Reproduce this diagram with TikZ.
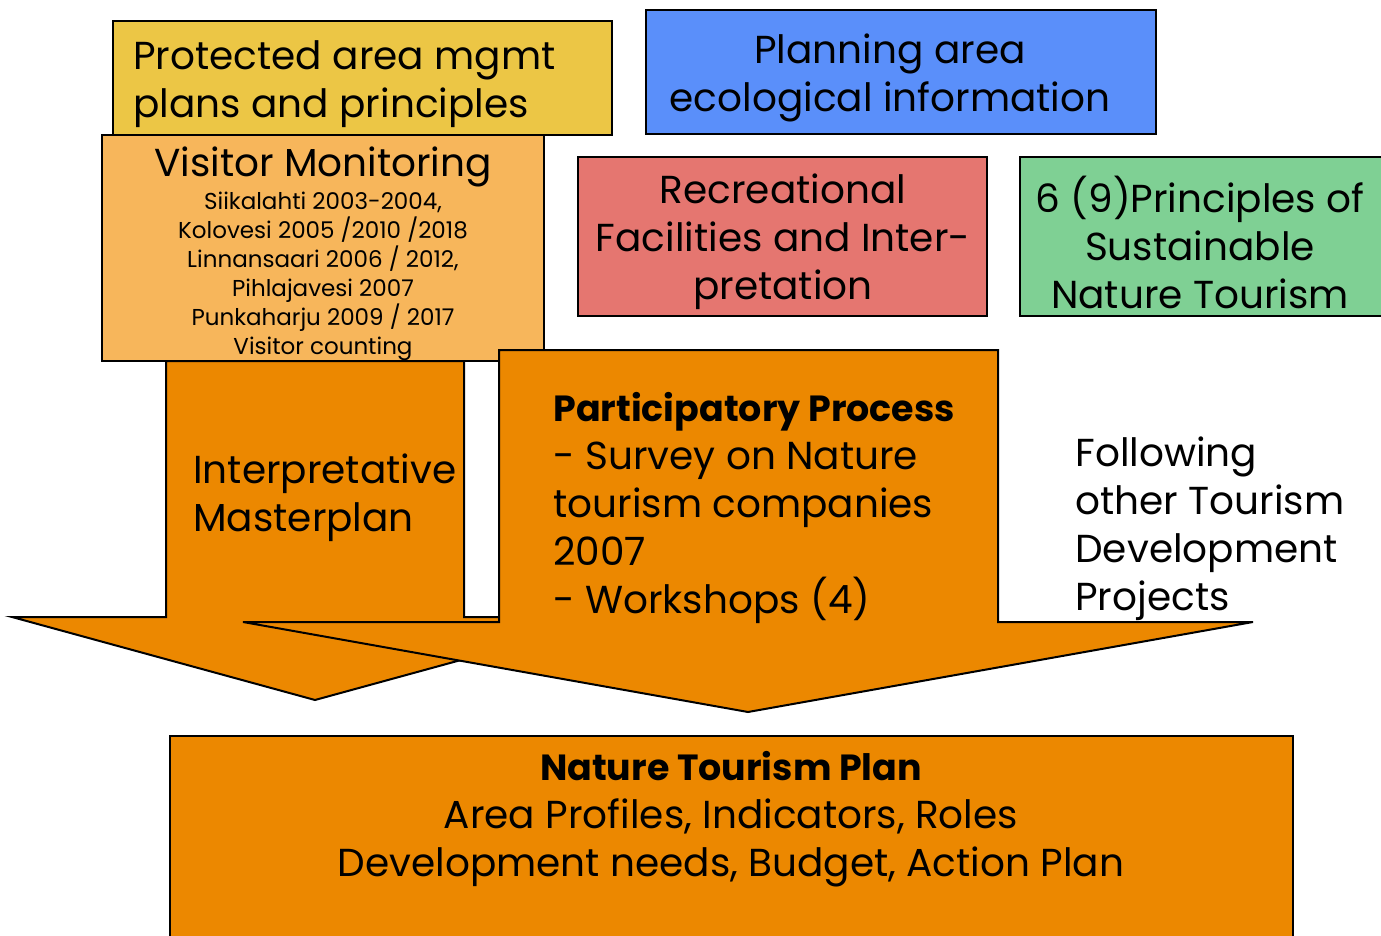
\documentclass[tikz,border=0pt]{standalone}
\usepackage{fontspec}
\setmainfont{Poppins}
\usepackage{xcolor}
\definecolor{mgmtyellow}{HTML}{ECC645}
\definecolor{planblue}{HTML}{5A8FFA}
\definecolor{monorange}{HTML}{F7B65B}
\definecolor{recred}{HTML}{E57670}
\definecolor{princgreen}{HTML}{7FD094}
\definecolor{arroworange}{HTML}{EC8800}
\tikzstyle{box} = [draw=black,line width=1pt]
\tikzstyle{big} = [inner sep=0pt,font={\fontsize{19.5}{24}\selectfont}]
\tikzstyle{small} = [inner sep=0pt,font={\fontsize{11.5}{14.5}\selectfont}]
\newcommand{\headline}[1]{{\fontsize{18.2}{24}\selectfont\textbf{#1}}}

\begin{document}
\begin{tikzpicture}[x=0.5pt,y=-0.5pt]
\useasboundingbox (0,0) rectangle (1381,936);
\clip (0,0) rectangle (1381,936);

\filldraw[box,fill=mgmtyellow] (113,21) rectangle (612,135);
\filldraw[box,fill=planblue] (646,10) rectangle (1156,134);
\filldraw[box,fill=recred] (578,157) rectangle (987,316);
\filldraw[box,fill=princgreen] (1020,157) rectangle (1390,316);
\filldraw[box,fill=monorange] (102,135) rectangle (544,361);

\filldraw[box,fill=arroworange] (166,361) -- (464,361) -- (464,617) -- (618,617)
	-- (315,700) -- (12,617) -- (166,617) -- cycle;
\filldraw[box,fill=arroworange] (499,350) -- (998,350) -- (998,622) -- (1253,622)
	-- (748,712) -- (243,622) -- (499,622) -- cycle;

\filldraw[box,fill=arroworange] (170,736) rectangle (1293,950);

\node[big,anchor=west,align=left] (mgmt) at (133,84) {Protected area mgmt\\plans and principles};
\node[big,align=center] (ecoinfo) at (890,78) {Planning area\\ecological information};
\node[big,align=center] (facilities) at (783,242) {Recreational\\Facilities and Inter-\\pretation};
\node[big,align=center] (principles) at (1200,242) {6 (9)Principles of\\Sustainable\\Nature Tourism};

\node[big] (monitoring) at (323,167) {Visitor Monitoring};
\node[small,align=center] (sites) at (323,276) {Siikalahti 2003-2004,\\Kolovesi 2005 /2010 /2018\\Linnansaari 2006 / 2012,\\Pihlajavesi 2007\\Punkaharju 2009 / 2017\\Visitor counting};

\node[big,anchor=west,align=left] (masterplan) at (193,498) {Interpretative\\Masterplan};
\node[big,anchor=west,align=left] (participatory) at (553,508) {\headline{Participatory Process}\\- Survey on Nature\\tourism companies\\2007\\- Workshops (4)};
\node[big,anchor=west,align=left] (following) at (1075,529) {Following\\other Tourism\\Development\\Projects};

\node[big,align=center] (ntplan) at (731,819) {\headline{Nature Tourism Plan}\\Area Profiles, Indicators, Roles\\Development needs, Budget, Action Plan};
\end{tikzpicture}
\end{document}
